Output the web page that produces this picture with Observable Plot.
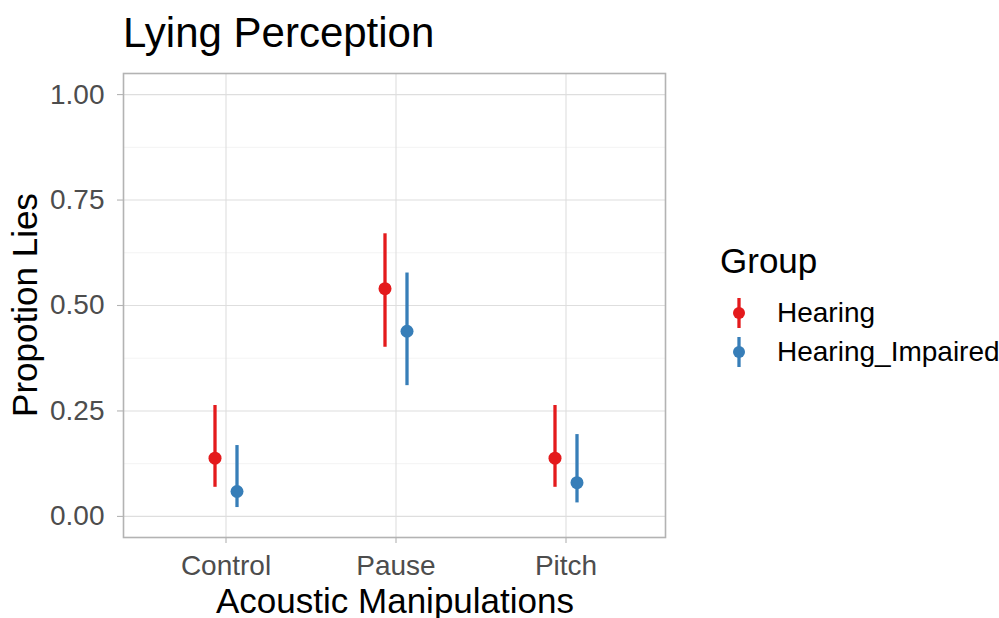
<!DOCTYPE html>
<html>
<head>
<meta charset="utf-8">
<script src="https://cdn.jsdelivr.net/npm/d3@7"></script>
<script src="https://cdn.jsdelivr.net/npm/@observablehq/plot@0.6"></script>
<style>
  html, body { margin: 0; padding: 0; background: #fff; }
  #wrap { position: relative; width: 999px; height: 618px; font-family: "Liberation Sans", Arial, sans-serif; overflow: hidden; }
  #wrap svg.plot { position: absolute; left: 0; top: 0; }
  .txt { position: absolute; white-space: nowrap; line-height: 1; color: #000; }
</style>
</head>
<body>
<div id="wrap"></div>
<script>
// ---- data ----
const categories = ["Control", "Pause", "Pitch"];
const groups = ["Hearing", "Hearing_Impaired"];
const groupColors = ["#E41A1C", "#377EB8"];
const hearingMean  = [0.138, 0.540, 0.138];
const hearingLow   = [0.069, 0.401, 0.069];
const hearingHigh  = [0.263, 0.670, 0.263];
const impairedMean = [0.059, 0.439, 0.080];
const impairedLow  = [0.021, 0.310, 0.032];
const impairedHigh = [0.168, 0.577, 0.194];
const yTicks = [0, 0.25, 0.5, 0.75, 1];
const yMinor = [0.125, 0.375, 0.625, 0.875];

const rows = [];
categories.forEach((c, i) => {
  rows.push({cat: c, group: groups[0], mean: hearingMean[i], lo: hearingLow[i], hi: hearingHigh[i]});
  rows.push({cat: c, group: groups[1], mean: impairedMean[i], lo: impairedLow[i], hi: impairedHigh[i]});
});

const W = 999, H = 618;
const dodge = 11;
const marks = [
  Plot.ruleY(yMinor, {stroke: "#EBEBEB", strokeWidth: 0.6}),
  Plot.ruleY(yTicks, {stroke: "#DEDEDE", strokeWidth: 1.1}),
  Plot.ruleX(categories, {stroke: "#DEDEDE", strokeWidth: 1.1}),
  Plot.frame({stroke: "#B3B3B3", strokeWidth: 1.6}),
  Plot.axisY({ticks: yTicks, tickFormat: d3.format(".2f"), tickSize: 6, tickPadding: 13, stroke: "#B3B3B3", strokeWidth: 1.1, fill: "#4D4D4D", fontSize: 28, label: null}),
  Plot.axisX({tickSize: 6, tickPadding: 12, stroke: "#B3B3B3", strokeWidth: 1.1, fill: "#4D4D4D", fontSize: 28, label: null})
];
groups.forEach((g, gi) => {
  const dx = gi === 0 ? -dodge : dodge;
  marks.push(Plot.ruleX(rows, {filter: d => d.group === g, x: "cat", y1: "lo", y2: "hi", dx, stroke: groupColors[gi], strokeWidth: 3.3}));
  marks.push(Plot.dot(rows, {filter: d => d.group === g, x: "cat", y: "mean", dx, r: 6.5, fill: groupColors[gi], stroke: "none"}));
});

const chart = Plot.plot({
  width: W, height: H,
  marginLeft: 123, marginRight: 334, marginTop: 73, marginBottom: 81,
  style: {fontFamily: "'Liberation Sans', Arial, sans-serif", background: "transparent", overflow: "visible"},
  x: {type: "point", domain: categories, range: [225.5, 565.5], padding: 0, round: false, label: null},
  y: {domain: [-0.05, 1.05], label: null},
  marks
});
chart.classList.add("plot");
const wrap = document.getElementById("wrap");
wrap.appendChild(chart);

function addText(str, css) {
  const d = document.createElement("div");
  d.className = "txt";
  d.textContent = str;
  Object.assign(d.style, css);
  wrap.appendChild(d);
  return d;
}
// title
addText("Lying Perception", {left: "123px", top: "12px", fontSize: "42px"});
// x axis title (centered on panel)
addText("Acoustic Manipulations", {left: "395px", top: "582.5px", fontSize: "35px", transform: "translateX(-50%)"});
// y axis title
addText("Propotion Lies", {left: "24px", top: "305px", fontSize: "35px", transform: "translate(-50%,-50%) rotate(-90deg)"});
// legend
addText("Group", {left: "720px", top: "242.5px", fontSize: "35px"});
const legendY = [312.5, 351.5];
groups.forEach((g, gi) => {
  const ns = "http://www.w3.org/2000/svg";
  const s = document.createElementNS(ns, "svg");
  s.setAttribute("width", 20); s.setAttribute("height", 34);
  s.style.position = "absolute";
  s.style.left = (739 - 10) + "px";
  s.style.top = (legendY[gi] - 17) + "px";
  const ln = document.createElementNS(ns, "line");
  ln.setAttribute("x1", 10); ln.setAttribute("x2", 10); ln.setAttribute("y1", 2); ln.setAttribute("y2", 32);
  ln.setAttribute("stroke", groupColors[gi]); ln.setAttribute("stroke-width", 3.3);
  const c = document.createElementNS(ns, "circle");
  c.setAttribute("cx", 10); c.setAttribute("cy", 17); c.setAttribute("r", 6);
  c.setAttribute("fill", groupColors[gi]);
  s.appendChild(ln); s.appendChild(c);
  wrap.appendChild(s);
  addText(g, {left: "777px", top: (legendY[gi] + 10 - 0.8465 * 28) + "px", fontSize: "28px"});
});
</script>
</body>
</html>
